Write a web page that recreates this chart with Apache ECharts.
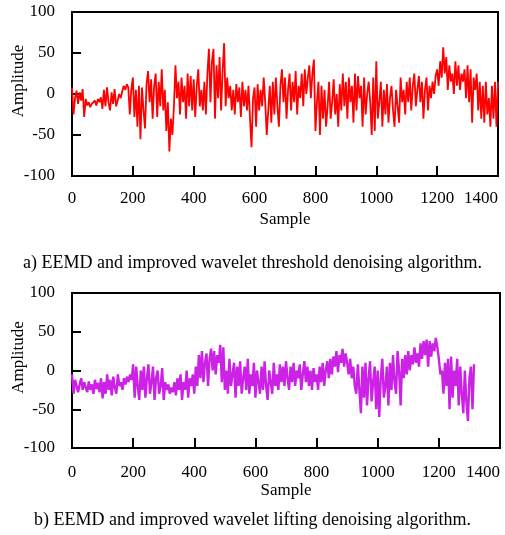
<!DOCTYPE html>
<html>
<head>
<meta charset="utf-8">
<title>EEMD denoising comparison</title>
<script src="https://cdn.jsdelivr.net/npm/echarts@6/dist/echarts.min.js"></script>
<style>
  html, body { margin: 0; padding: 0; background: #fff; }
  #chart { width: 505px; height: 535px; }
</style>
</head>
<body>
<div id="chart"></div>
<script>
// samples are read every 5 points off the picture
const sampleStep = 5;

const xTicks = [0, 200, 400, 600, 800, 1000, 1200, 1400];
const yTicks = [-100, -50, 0, 50, 100];

// a) EEMD + improved wavelet threshold
const thresholdValues = [
  8, -25, -5, 4, -12, 2, -8, 6, -28, -6, -14, -10, -16, -12, -10, -8, -14, -6, -10, -4,
  -18, 5, -15, 8, -10, -20, 2, -12, 6, -15, -8, 0, -5, 3, 10, 5, 12, 8, -25, 6,
  20, -28, 5, -40, 10, -55, 8, -20, -42, 12, 28, -10, 18, -30, 10, 25, -28, 15, -15, 30,
  -20, 5, -45, -10, -70, -30, -50, -15, 35, -5, 15, -25, 20, -10, 10, -30, 25, -15, 22, -20,
  18, -28, 10, 30, -15, 5, -20, 15, -25, 25, 55, -10, 40, 55, -30, 35, -5, 45, -20, 28,
  62, -15, 20, -5, 10, -20, 5, -25, 12, -10, 8, -28, 15, -15, 5, -20, 10, -30, -65, -5,
  8, -40, 12, -20, 5, -15, 20, -10, -50, -20, 10, -35, 15, -25, 20, -15, -40, 10, 30, -10,
  20, -30, 5, 25, -20, 15, -10, 28, -25, 10, -5, 25, -15, 30, 0, 20, 35, -5, 25, 42,
  -45, -10, 15, -50, 10, -30, 5, -40, -15, 15, -30, -10, 18, -25, 0, -40, 12, -20, 25, -15,
  15, -30, 20, -10, 10, -35, 25, -20, 22, -5, 10, -40, 20, -25, 0, 15, -10, -50, 20, -45,
  40, -30, -10, 15, -40, 5, -25, 12, -35, -5, 10, -20, -40, 5, -15, -35, 20, -10, 5, -25,
  15, -10, 20, -20, 10, 25, -15, 5, 22, -10, 15, -30, 5, 20, -20, 10, -5, 15, 0, 22,
  30, 10, 40, 20, 57, 25, 45, 5, 35, 15, 25, 0, 40, 10, 35, 5, 25, 15, 30, -5,
  35, -10, 30, -35, 20, 5, 25, -20, 15, -30, 10, -35, 15, -25, -5, -40, 10, -30, 15, -40,
  15
];

// b) EEMD + improved wavelet lifting
const liftingValues = [
  -5, -30, -12, -20, -28, -18, -10, -25, -15, -22, -28, -14, -25, -18, -30, -12, -24, -16, -28, -10,
  -36, -15, -30, -5, -25, -12, -32, -8, -22, -30, -5, -20, -15, -25, -10, -18, -8, -15, -5, -12,
  8, -35, 5, -20, -38, 0, -25, 5, -35, -10, 8, -30, -15, 5, -38, -10, 0, -30, -20, 3,
  -38, -15, -25, -18, -30, -22, -28, -15, -32, -10, -25, -5, -38, -15, -25, 0, -35, -10, -20, -5,
  -30, 5, -20, 20, -10, 25, -15, 10, 22, -20, 15, 28, 0, 25, -5, 20, 10, 33, -15, 30,
  -25, 0, -30, 15, -20, -5, 10, -35, 5, -20, 12, -30, -10, 5, -25, 15, -30, -5, -20, 10,
  -35, 0, -15, -30, 5, -25, 12, -20, -38, 0, -15, -30, 10, -20, -5, -25, 8, -15, 5, -20,
  12, -10, -25, 5, -15, 10, -20, 0, -10, 8, -25, -5, 12, -15, 5, -20, 0, -25, 3, -15,
  -5, -25, 5, -15, 10, -20, 0, 12, -10, 15, -5, 18, 5, 25, -2, 20, 10, 28, 5, 22,
  10, -5, 15, -10, 5, -20, -30, 8, -25, -55, 5, -35, 10, -45, -10, 12, -40, -15, 5, -50,
  0, -60, -10, 15, -35, -20, 5, -45, 10, -25, 20, -15, -30, 25, 0, -45, 15, -10, 20, -5,
  25, 0, 20, 8, 30, 10, 22, 5, 35, 15, 38, 20, 40, 5, 38, 18, 35, 25, 42, 30,
  15, -5, 0, -30, 10, -20, 15, -50, 18, -35, 0, -20, 15, -45, 5, -30, -55, 0, -40, -65,
  -10, 5, -50, 8
];

const captionA = 'a) EEMD and improved wavelet threshold denoising algorithm.';
const captionB = 'b) EEMD and improved wavelet lifting denoising algorithm.';

const serif = '"Liberation Serif", "Times New Roman", serif';

const toPairs = (vals) => vals.map((v, i) => [i * sampleStep, v]);

const xAxisFor = (gridIndex, nameGap, labelMargin) => ({
  type: 'value',
  gridIndex,
  min: xTicks[0],
  max: xTicks[xTicks.length - 1],
  interval: 200,
  name: 'Sample',
  nameLocation: 'middle',
  nameGap,
  nameTextStyle: { fontFamily: serif, fontSize: 17, color: '#000' },
  axisLine: { show: true, onZero: false, lineStyle: { color: '#000', width: 2 } },
  axisTick: { show: true, inside: true, length: 10, lineStyle: { color: '#000', width: 2 } },
  axisLabel: {
    margin: labelMargin, fontFamily: serif, fontSize: 17, color: '#000',
    alignMaxLabel: 'right',
    formatter: (v) => String(v),
  },
  splitLine: { show: false },
});

const yAxisFor = (gridIndex) => ({
  type: 'value',
  gridIndex,
  min: yTicks[0],
  max: yTicks[yTicks.length - 1],
  interval: 50,
  name: 'Amplitude',
  nameLocation: 'middle',
  nameGap: 45,
  nameRotate: 90,
  nameMoveOverlap: false,
  nameTextStyle: { fontFamily: serif, fontSize: 17, color: '#000', padding: [0, 0, 0, 26] },
  axisLine: { show: true, onZero: false, lineStyle: { color: '#000', width: 2 } },
  axisTick: { show: true, inside: true, length: 9, lineStyle: { color: '#000', width: 2 } },
  axisLabel: {
    margin: 17, fontFamily: serif, fontSize: 17, color: '#000',
    formatter: (v) => String(v),
  },
  splitLine: { show: false },
});

const gridBase = {
  show: true,
  borderColor: '#000',
  borderWidth: 2,
  backgroundColor: 'transparent',
  containLabel: false,
  outerBoundsMode: 'none',
};

const chart = echarts.init(document.getElementById('chart'), null, { renderer: 'canvas' });

chart.setOption({
  backgroundColor: '#fff',
  animation: false,
  title: [
    {
      text: captionA, left: 'center', top: 249,
      textStyle: { fontFamily: serif, fontSize: 18, fontWeight: 'normal', color: '#000' },
    },
    {
      text: captionB, left: 'center', top: 506,
      textStyle: { fontFamily: serif, fontSize: 18, fontWeight: 'normal', color: '#000' },
    },
  ],
  grid: [
    { ...gridBase, left: 72, top: 12, width: 426, height: 164 },
    { ...gridBase, left: 72, top: 293, width: 428, height: 155 },
  ],
  xAxis: [xAxisFor(0, 35, 14), xAxisFor(1, 33, 16)],
  yAxis: [yAxisFor(0), yAxisFor(1)],
  series: [
    {
      type: 'line',
      xAxisIndex: 0,
      yAxisIndex: 0,
      data: toPairs(thresholdValues),
      showSymbol: false,
      lineStyle: { color: '#ff0000', width: 1.8 },
      itemStyle: { color: '#ff0000' },
    },
    {
      type: 'line',
      xAxisIndex: 1,
      yAxisIndex: 1,
      data: toPairs(liftingValues),
      showSymbol: false,
      lineStyle: { color: '#cc22e6', width: 2.4 },
      itemStyle: { color: '#cc22e6' },
    },
  ],
});

window.addEventListener('resize', () => chart.resize());
</script>
</body>
</html>
